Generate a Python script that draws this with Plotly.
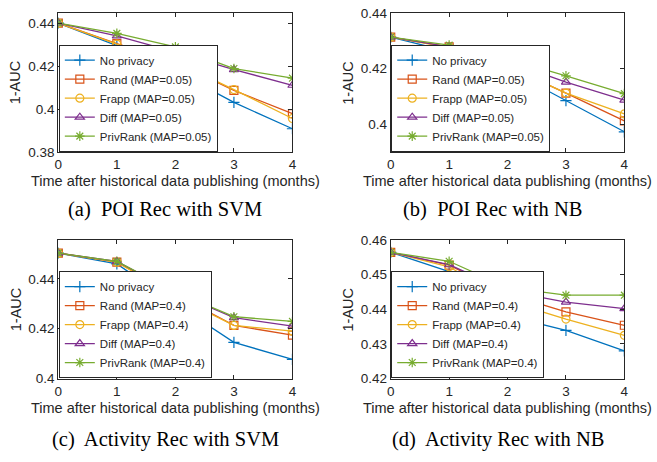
import plotly.graph_objects as go

W, H = 657, 462

months = [0, 1, 2, 3, 4]
month_labels = ["0", "1", "2", "3", "4"]

names_top = ["No privacy", "Rand (MAP=0.05)", "Frapp (MAP=0.05)", "Diff (MAP=0.05)", "PrivRank (MAP=0.05)"]
names_bot = ["No privacy", "Rand (MAP=0.4)", "Frapp (MAP=0.4)", "Diff (MAP=0.4)", "PrivRank (MAP=0.4)"]

# (a) POI Rec with SVM
nopriv_a = [0.4402, 0.4297, 0.4178, 0.4032, 0.3909]
rand_a = [0.4402, 0.4306, 0.4219, 0.4088, 0.3980]
frapp_a = [0.4402, 0.4304, 0.4222, 0.4092, 0.3957]
diff_a = [0.4402, 0.4342, 0.4267, 0.4185, 0.4112]
privrank_a = [0.4402, 0.4354, 0.4291, 0.4190, 0.4145]

# (b) POI Rec with NB
nopriv_b = [0.4313, 0.4261, 0.4197, 0.4085, 0.3973]
rand_b = [0.4313, 0.4278, 0.4209, 0.4112, 0.4012]
frapp_b = [0.4313, 0.4275, 0.4209, 0.4112, 0.4037]
diff_b = [0.4313, 0.4278, 0.4226, 0.4151, 0.4087]
privrank_b = [0.4313, 0.4284, 0.4235, 0.4174, 0.4110]

# (c) Activity Rec with SVM
nopriv_c = [0.4503, 0.4460, 0.4300, 0.4145, 0.4077]
rand_c = [0.4503, 0.4467, 0.4338, 0.4213, 0.4174]
frapp_c = [0.4503, 0.4467, 0.4329, 0.4213, 0.4190]
diff_c = [0.4503, 0.4470, 0.4345, 0.4244, 0.4210]
privrank_c = [0.4503, 0.4470, 0.4347, 0.4248, 0.4229]

# (d) Activity Rec with NB
nopriv_d = [0.4565, 0.4509, 0.4381, 0.4339, 0.4280]
rand_d = [0.4565, 0.4528, 0.4444, 0.4393, 0.4354]
frapp_d = [0.4565, 0.4523, 0.4424, 0.4372, 0.4325]
diff_d = [0.4565, 0.4529, 0.4453, 0.4421, 0.4402]
privrank_d = [0.4565, 0.4539, 0.4463, 0.4441, 0.4441]

yticks_a = [0.38, 0.40, 0.42, 0.44]
ylabels_a = ["0.38", "0.4", "0.42", "0.44"]
yticks_b = [0.40, 0.42, 0.44]
ylabels_b = ["0.4", "0.42", "0.44"]
yticks_c = [0.40, 0.42, 0.44]
ylabels_c = ["0.4", "0.42", "0.44"]
yticks_d = [0.42, 0.43, 0.44, 0.45, 0.46]
ylabels_d = ["0.42", "0.43", "0.44", "0.45", "0.46"]

captions = ["(a)\u00a0 POI Rec with SVM", "(b)\u00a0 POI Rec with NB",
            "(c)\u00a0 Activity Rec with SVM", "(d)\u00a0 Activity Rec with NB"]

colors = ["#0072BD", "#D95319", "#EDB120", "#7E2F8E", "#77AC30"]
symbols = ["cross-thin-open", "square-open", "circle-open", "triangle-up-open", "asterisk-open"]

# pixel layout of each panel: (left, right, top, bottom)
panels = [
    dict(px=(55, 292, 6, 150), yr=[0.38, 0.445], yt=yticks_a, yl=ylabels_a,
         data=[nopriv_a, rand_a, frapp_a, diff_a, privrank_a], names=names_top, cap_x=163, cap_y=209),
    dict(px=(391.5, 628, 6, 150), yr=[0.39, 0.44], yt=yticks_b, yl=ylabels_b,
         data=[nopriv_b, rand_b, frapp_b, diff_b, privrank_b], names=names_top, cap_x=495, cap_y=209),
    dict(px=(55, 292, 241, 384), yr=[0.40, 0.4555], yt=yticks_c, yl=ylabels_c,
         data=[nopriv_c, rand_c, frapp_c, diff_c, privrank_c], names=names_bot, cap_x=163, cap_y=447),
    dict(px=(391.5, 628, 241, 384), yr=[0.42, 0.46], yt=yticks_d, yl=ylabels_d,
         data=[nopriv_d, rand_d, frapp_d, diff_d, privrank_d], names=names_bot, cap_x=500, cap_y=447),
]

AX = "#262626"
FONT = "Liberation Sans"

fig = go.Figure()
layout = dict(width=W, height=H, margin=dict(l=0, r=0, t=0, b=0),
              paper_bgcolor="white", plot_bgcolor="white", showlegend=True)
annotations = []

for i, p in enumerate(panels):
    k = "" if i == 0 else str(i + 1)
    l, r, t, b = p["px"]
    xd = [l / W, r / W]
    yd = [1 - b / H, 1 - t / H]
    common = dict(showline=True, linecolor=AX, linewidth=1, mirror="ticks",
                  ticks="inside", ticklen=4, tickcolor=AX, tickwidth=1,
                  showgrid=False, zeroline=False,
                  tickfont=dict(family=FONT, size=13.5, color=AX))
    layout["xaxis" + k] = dict(domain=xd, range=[0, 4], tickvals=months, ticktext=month_labels,
                               anchor="y" + k, **common)
    layout["yaxis" + k] = dict(domain=yd, range=p["yr"], tickvals=p["yt"], ticktext=p["yl"],
                               anchor="x" + k, **common)
    leg = "legend" + k
    layout[leg] = dict(x=(l + 0.5) / W, y=1 - (b - 0.5) / H, xanchor="left", yanchor="bottom",
                       bgcolor="white", bordercolor=AX, borderwidth=1, itemwidth=30,
                       tracegroupgap=0,
                       font=dict(family=FONT, size=11.5, color=AX))
    for j in range(5):
        fig.add_trace(go.Scatter(
            x=months, y=p["data"][j], name=p["names"][j], mode="lines+markers",
            xaxis="x" + k, yaxis="y" + k, legend=leg,
            line=dict(color=colors[j], width=1.3),
            marker=dict(symbol=symbols[j], size=8, color=colors[j],
                        line=dict(color=colors[j], width=1.2)),
        ))
    # axis titles
    annotations.append(dict(text="Time after historical data publishing (months)",
                            x=(l + r) / 2 / W, y=1 - (b + 30) / H, xref="paper", yref="paper",
                            xanchor="center", yanchor="middle", showarrow=False,
                            font=dict(family=FONT, size=14.5, color=AX)))
    annotations.append(dict(text="1-AUC", textangle=-90,
                            x=(l - 43) / W, y=1 - (t + b) / 2 / H, xref="paper", yref="paper",
                            xanchor="center", yanchor="middle", showarrow=False,
                            font=dict(family=FONT, size=14.5, color=AX)))
    annotations.append(dict(text=captions[i], x=p["cap_x"] / W, y=1 - p["cap_y"] / H,
                            xref="paper", yref="paper", xanchor="center", yanchor="middle",
                            showarrow=False,
                            font=dict(family="Liberation Serif", size=20.5, color="black")))

layout["annotations"] = annotations
fig.update_layout(**layout)
fig.write_html("out.html")
